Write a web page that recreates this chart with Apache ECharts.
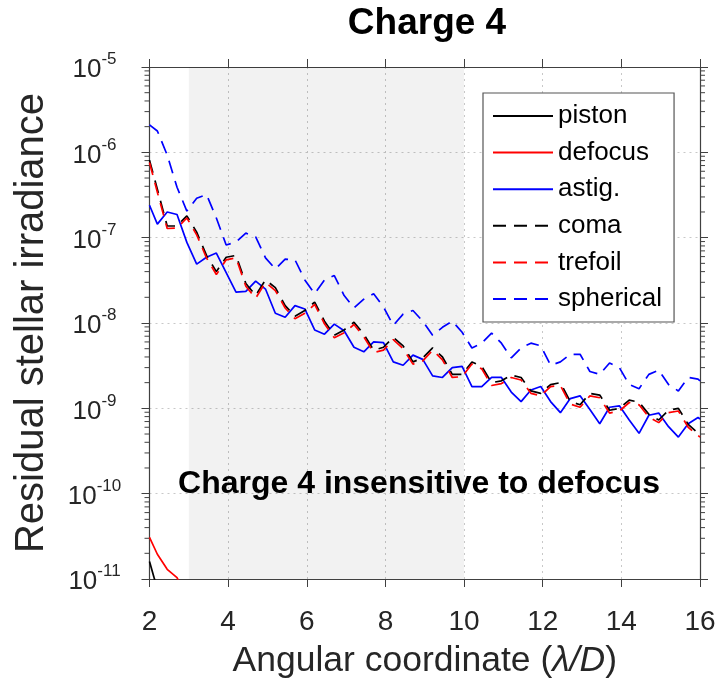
<!DOCTYPE html>
<html>
<head>
<meta charset="utf-8">
<script src="https://cdn.jsdelivr.net/npm/echarts@6/dist/echarts.min.js"></script>
<style>html,body{margin:0;padding:0;background:#fff;}#c{width:722px;height:688px;}</style>
</head>
<body>
<div id="c"></div>
<script>
// ---- data ----
const xs = [2, 2.2, 2.45, 2.7, 2.95, 3.2, 3.45, 3.7, 3.95, 4.2, 4.45, 4.7, 4.95, 5.2, 5.45, 5.7, 5.95, 6.2, 6.45, 6.7,
  6.95, 7.2, 7.45, 7.7, 7.95, 8.2, 8.45, 8.7, 8.95, 9.2, 9.45, 9.7, 9.95, 10.2, 10.45, 10.7, 10.95, 11.2, 11.45, 11.7,
  11.95, 12.2, 12.45, 12.7, 12.95, 13.2, 13.45, 13.7, 13.95, 14.2, 14.45, 14.7, 14.95, 15.2, 15.45, 15.7, 15.95, 16];
const pistonY = [1.6e-11, 7.6e-12];
const defocusY = [3.07e-11, 1.95e-11, 1.3e-11, 1.04e-11, 6e-12];
const astigY = [2.4e-7, 1.44e-7, 2.0e-7, 1.87e-7, 8.8e-8, 4.9e-8, 5.9e-8, 6.6e-8, 3.9e-8, 2.3e-8,
  2.35e-8, 3.1e-8, 2.5e-8, 1.3e-8, 1.17e-8, 1.6e-8, 1.46e-8, 8.3e-9, 7.4e-9, 9.7e-9,
  8.1e-9, 5.2e-9, 4.6e-9, 6.0e-9, 5.9e-9, 3.5e-9, 3.2e-9, 4.2e-9, 3.75e-9, 2.4e-9,
  2.3e-9, 3.0e-9, 3.1e-9, 1.8e-9, 1.8e-9, 2.3e-9, 2.3e-9, 1.55e-9, 1.2e-9, 1.64e-9,
  1.8e-9, 1.2e-9, 8.9e-10, 1.3e-9, 1.4e-9, 9.7e-10, 6.6e-10, 1.03e-9, 1.07e-9, 7.3e-10,
  5.1e-10, 8.3e-10, 8.8e-10, 6.1e-10, 4.6e-10, 6.6e-10, 7.8e-10, 7.5e-10];
const comaY = [8.1e-7, 3.7e-7, 1.37e-7, 1.37e-7, 1.8e-7, 1.16e-7, 6.2e-8, 4.0e-8, 5.9e-8, 6.2e-8,
  2.9e-8, 2.1e-8, 3.2e-8, 2.6e-8, 1.6e-8, 1.2e-8, 1.4e-8, 1.76e-8, 1.05e-8, 7.2e-9,
  8.3e-9, 1.02e-8, 7.4e-9, 4.8e-9, 5.2e-9, 6.8e-9, 5.4e-9, 3.5e-9, 3.9e-9, 5.1e-9,
  4.0e-9, 2.5e-9, 2.5e-9, 3.5e-9, 3.1e-9, 2.0e-9, 2.1e-9, 2.45e-9, 2.3e-9, 1.6e-9,
  1.5e-9, 1.9e-9, 2.0e-9, 1.2e-9, 1.1e-9, 1.5e-9, 1.43e-9, 9.5e-10, 1.0e-9, 1.25e-9,
  1.18e-9, 8.5e-10, 7.3e-10, 9.5e-10, 1.0e-9, 6.5e-10, 5.1e-10, 4.9e-10];
const trefoilY = [7.6e-7, 3.4e-7, 1.28e-7, 1.3e-7, 1.7e-7, 1.08e-7, 5.8e-8, 3.7e-8, 5.5e-8, 5.8e-8,
  2.7e-8, 1.95e-8, 3.0e-8, 2.4e-8, 1.5e-8, 1.12e-8, 1.3e-8, 1.65e-8, 9.8e-9, 6.7e-9,
  7.7e-9, 9.6e-9, 6.9e-9, 4.5e-9, 4.8e-9, 6.4e-9, 5.0e-9, 3.3e-9, 3.6e-9, 4.8e-9,
  3.7e-9, 2.3e-9, 2.35e-9, 3.3e-9, 2.9e-9, 1.85e-9, 1.95e-9, 2.3e-9, 2.15e-9, 1.5e-9,
  1.4e-9, 1.8e-9, 1.85e-9, 1.12e-9, 1.03e-9, 1.4e-9, 1.33e-9, 8.8e-10, 9.3e-10, 1.17e-9,
  1.1e-9, 7.9e-10, 6.8e-10, 8.9e-10, 9.3e-10, 6.0e-10, 4.8e-10, 4.6e-10];
const sphericalY = [2.1e-6, 1.78e-6, 9.3e-7, 3.9e-7, 2.05e-7, 2.9e-7, 3.2e-7, 1.7e-7, 8.2e-8, 8.9e-8,
  1.13e-7, 1.02e-7, 5.8e-8, 4.3e-8, 5.6e-8, 5.5e-8, 3.2e-8, 2.2e-8, 3.2e-8, 3.6e-8,
  2.1e-8, 1.5e-8, 1.9e-8, 2.2e-8, 1.54e-8, 9.4e-9, 1.27e-8, 1.4e-8, 1.05e-8, 7.2e-9,
  8.9e-9, 1.05e-8, 7.8e-9, 5.1e-9, 5.8e-9, 7.6e-9, 5.8e-9, 3.9e-9, 5.1e-9, 5.8e-9,
  5.4e-9, 3.2e-9, 3.5e-9, 4.3e-9, 4.3e-9, 2.7e-9, 2.5e-9, 3.4e-9, 3.0e-9, 1.9e-9,
  1.7e-9, 2.5e-9, 2.8e-9, 1.9e-9, 1.6e-9, 2.3e-9, 2.2e-9, 2.1e-9];
const seriesNames = ['piston', 'defocus', 'astig.', 'coma', 'trefoil', 'spherical'];
const shadedRange = [3, 10];
const xRange = [2, 16, 2];
const yRange = [1e-11, 1e-5];
const titleText = 'Charge 4';
const noteText = 'Charge 4 insensitive to defocus';
const xNameParts = ['Angular coordinate (', 'λ/D', ')'];
const yName = 'Residual stellar irradiance';

// ---- build ----
const FONT = '"Liberation Sans", Arial, Helvetica, sans-serif';
const AX = '#404040';
const pairs = (ys) => ys.map((y, i) => [xs[i], y]);
const minorTicks = [];
for (let d = -11; d < -5; d++) for (let m = 2; m <= 9; m++) minorTicks.push([2, m * Math.pow(10, d)]);

const dash = [13, 8];
function line(name, ys, color, type, extra) {
  return Object.assign({
    name, type: 'line', data: pairs(ys), symbol: 'none', showSymbol: false,
    lineStyle: { color, width: 1.7, type }, itemStyle: { color }, emphasis: { disabled: true },
    animation: false, z: 3
  }, extra || {});
}

const chart = echarts.init(document.getElementById('c'));
chart.setOption({
  animation: false,
  grid: { left: 149.5, right: 22, top: 67, bottom: 109, containLabel: false },
  xAxis: [{
    type: 'value', min: xRange[0], max: xRange[1], interval: xRange[2],
    axisLine: { onZero: false, lineStyle: { color: AX, width: 1.2 } },
    axisTick: { inside: false, length: 8, lineStyle: { color: AX } },
    axisLabel: { fontSize: 28, color: '#262626', fontFamily: FONT, margin: 29 },
    splitLine: { show: true, lineStyle: { color: '#c8c8c8', type: [2, 4], width: 1 } },
    name: '{n|' + xNameParts[0] + '}{i|' + xNameParts[1] + '}{n|' + xNameParts[2] + '}',
    nameLocation: 'middle', nameGap: 64,
    nameTextStyle: {
      fontSize: 35.5, color: '#262626', fontFamily: FONT,
      rich: { i: { fontSize: 35.5, fontStyle: 'italic', fontFamily: FONT, color: '#262626' }, n: { fontSize: 35.5, fontFamily: FONT, color: '#262626' } }
    }
  }, {
    type: 'value', position: 'top', min: xRange[0], max: xRange[1], interval: xRange[2],
    axisLine: { onZero: false, lineStyle: { color: AX, width: 1.2 } },
    axisTick: { inside: false, length: 8, lineStyle: { color: AX } },
    axisLabel: { show: false }, splitLine: { show: false }
  }],
  yAxis: [{
    type: 'log', logBase: 10, min: yRange[0], max: yRange[1], splitNumber: 6,
    axisLine: { show: true, onZero: false, lineStyle: { color: AX, width: 1.2 } },
    axisTick: { show: true, inside: false, length: 8, lineStyle: { color: AX } },
    axisLabel: {
      align: 'center', margin: 55, color: '#262626',
      formatter: (v) => '{b|10}{e|' + Math.round(Math.log10(v)) + '}',
      rich: {
        b: { fontSize: 26, fontFamily: FONT, color: '#262626', verticalAlign: 'bottom', lineHeight: 32 },
        e: { fontSize: 17, fontFamily: FONT, color: '#262626', verticalAlign: 'top', lineHeight: 32 }
      }
    },
    splitLine: { show: true, lineStyle: { color: '#c8c8c8', type: [2, 4], width: 1 } },
    name: yName, nameLocation: 'middle', nameGap: 98, nameRotate: 90,
    nameTextStyle: { fontSize: 40, color: '#262626', fontFamily: FONT }
  }, {
    type: 'log', logBase: 10, position: 'right', min: yRange[0], max: yRange[1], splitNumber: 6,
    axisLine: { show: true, onZero: false, lineStyle: { color: AX, width: 1.2 } },
    axisTick: { show: true, inside: false, length: 8, lineStyle: { color: AX } },
    axisLabel: { show: false }, splitLine: { show: false }
  }],
  legend: {
    data: seriesNames, orient: 'vertical', left: 483, top: 93,
    padding: [10, 12, 10, 9], itemWidth: 60, itemHeight: 12, itemGap: 10.6,
    backgroundColor: '#fff', borderColor: '#555', borderWidth: 1.2, borderRadius: 0,
    itemStyle: { opacity: 0 },
    textStyle: { fontSize: 26, color: '#000', fontFamily: FONT, lineHeight: 25 },
    selectedMode: false
  },
  series: [
    line(seriesNames[0], pistonY, '#000000', 'solid', {
      markArea: { silent: true, itemStyle: { color: 'rgba(0,0,0,0.05)' }, data: [[{ xAxis: shadedRange[0] }, { xAxis: shadedRange[1] }]] },
      z: 2
    }),
    line(seriesNames[1], defocusY, '#ff0000', 'solid'),
    line(seriesNames[2], astigY, '#0000ff', 'solid'),
    line(seriesNames[3], comaY, '#000000', dash),
    line(seriesNames[4], trefoilY, '#ff0000', dash),
    line(seriesNames[5], sphericalY, '#0000ff', dash),
    {
      type: 'custom', name: 'minorTicks', data: minorTicks, encode: { x: 0, y: 1 }, clip: false, silent: true, z: 1,
      renderItem: (params, api) => {
        const p = api.coord([api.value(0), api.value(1)]);
        const cs = params.coordSys;
        const st = { stroke: AX, lineWidth: 1 };
        return { type: 'group', children: [
          { type: 'line', shape: { x1: cs.x - 5, y1: p[1], x2: cs.x, y2: p[1] }, style: st },
          { type: 'line', shape: { x1: cs.x + cs.width, y1: p[1], x2: cs.x + cs.width + 5, y2: p[1] }, style: st }
        ] };
      }
    }
  ],
  graphic: [
    { type: 'text', x: 427, y: 24, style: { text: titleText, font: 'bold 37px ' + FONT, fill: '#000', textAlign: 'center', align: 'center', textVerticalAlign: 'middle', verticalAlign: 'middle' } },
    { type: 'text', x: 419, y: 484, z: 10, style: { text: noteText, font: 'bold 32px ' + FONT, fill: '#000', textAlign: 'center', align: 'center', textVerticalAlign: 'middle', verticalAlign: 'middle' } }
  ]
});
</script>
</body>
</html>
